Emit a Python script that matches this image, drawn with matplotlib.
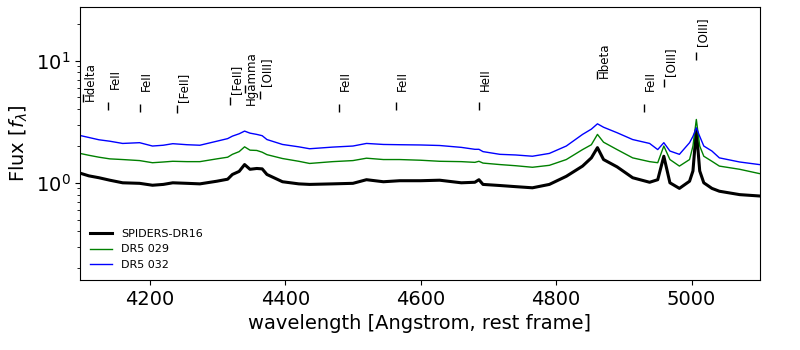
import matplotlib
matplotlib.use("Agg")
import matplotlib.pyplot as plt

# rest-frame wavelength grid (Angstrom) shared by the three spectra
wave = [4097, 4110, 4125, 4141, 4160, 4185, 4204, 4220, 4234, 4255, 4274, 4299,
        4315, 4322, 4332, 4340, 4348, 4358, 4366, 4373, 4396, 4420, 4436, 4470,
        4500, 4520, 4545, 4569, 4600, 4628, 4660, 4680, 4686, 4692, 4717, 4740,
        4765, 4790, 4815, 4839, 4852, 4861, 4870, 4890, 4913, 4938, 4950, 4959,
        4968, 4982, 4997, 5002, 5007, 5012, 5018, 5030, 5041, 5071, 5100]

spiders = [1.20, 1.14, 1.10, 1.05, 1.00, 0.99, 0.955, 0.97, 1.00, 0.99, 0.98, 1.03,
           1.07, 1.17, 1.24, 1.41, 1.29, 1.31, 1.30, 1.17, 1.02, 0.98, 0.97, 0.98,
           0.99, 1.06, 1.02, 1.04, 1.04, 1.05, 1.00, 1.01, 1.06, 0.97, 0.95, 0.93,
           0.91, 0.97, 1.13, 1.37, 1.60, 1.94, 1.55, 1.35, 1.10, 1.01, 1.06, 1.65,
           1.00, 0.90, 1.03, 1.25, 2.73, 1.25, 1.00, 0.90, 0.853, 0.80, 0.78]

dr5_029 = [1.74, 1.68, 1.62, 1.57, 1.55, 1.52, 1.46, 1.48, 1.50, 1.49, 1.49, 1.57,
           1.62, 1.71, 1.80, 1.97, 1.85, 1.84, 1.78, 1.70, 1.58, 1.50, 1.44, 1.49,
           1.52, 1.59, 1.55, 1.55, 1.53, 1.50, 1.49, 1.47, 1.50, 1.45, 1.41, 1.38,
           1.34, 1.39, 1.55, 1.87, 2.05, 2.49, 2.15, 1.87, 1.60, 1.49, 1.46, 2.00,
           1.55, 1.37, 1.55, 2.00, 3.30, 2.00, 1.65, 1.50, 1.37, 1.29, 1.19]

dr5_032 = [2.44, 2.35, 2.25, 2.19, 2.10, 2.13, 2.00, 2.03, 2.09, 2.05, 2.03, 2.19,
           2.30, 2.41, 2.52, 2.65, 2.55, 2.49, 2.43, 2.26, 2.06, 1.97, 1.90, 1.96,
           2.00, 2.10, 2.06, 2.05, 2.04, 2.02, 1.95, 1.88, 1.88, 1.80, 1.71, 1.69,
           1.65, 1.74, 2.00, 2.49, 2.75, 3.04, 2.85, 2.57, 2.26, 2.10, 1.87, 2.13,
           1.82, 1.71, 2.13, 2.40, 2.82, 2.40, 2.00, 1.82, 1.60, 1.48, 1.41]

# emission line identifications
line_names = ["Hdelta", "FeII", "FeII", "[FeII]", "[FeII]", "Hgamma", "[OIII]",
              "FeII", "FeII", "HeII", "Hbeta", "FeII", "[OIII]", "[OIII]"]
line_wave = [4102, 4139, 4185, 4240, 4318, 4341, 4363,
             4479, 4563, 4686, 4861, 4930, 4959, 5007]

# heights of the marker and of the label for each line
mark_y = [4.91, 4.22, 4.06, 3.99, 4.69, 5.9, 5.25,
          4.06, 4.22, 4.22, 7.58, 4.10, 6.51, 11.0]
text_y = [4.64, 5.82, 5.60, 4.55, 5.30, 4.30, 6.15,
          5.60, 5.60, 5.60, 7.16, 5.60, 7.43, 13.1]

fig, ax = plt.subplots(figsize=(8, 3.5), dpi=100)
fig.subplots_adjust(left=0.1, right=0.95, top=0.98, bottom=0.2)

ax.plot(wave, spiders, color="black", lw=2.2, label="SPIDERS-DR16")
ax.plot(wave, dr5_029, color="green", lw=1, label="DR5 029")
ax.plot(wave, dr5_032, color="blue", lw=1, label="DR5 032")

for name, w, my, ty in zip(line_names, line_wave, mark_y, text_y):
    ax.plot(w, my, marker="|", color="black", ms=6, mew=1)
    ax.text(w, ty, name, rotation=90, ha="left", va="bottom", fontsize=8.5)

ax.set_yscale("log")
ax.set_xlim(4097, 5101)
ax.set_ylim(0.16, 27.5)
ax.set_xticks([4200, 4400, 4600, 4800, 5000])
ax.tick_params(labelsize=14)
ax.set_xlabel("wavelength [Angstrom, rest frame]", fontsize=14)
ax.set_ylabel(r"Flux [$f_\lambda$]", fontsize=14)
ax.legend(loc="lower left", frameon=False, fontsize=8)

plt.savefig("out.png")
